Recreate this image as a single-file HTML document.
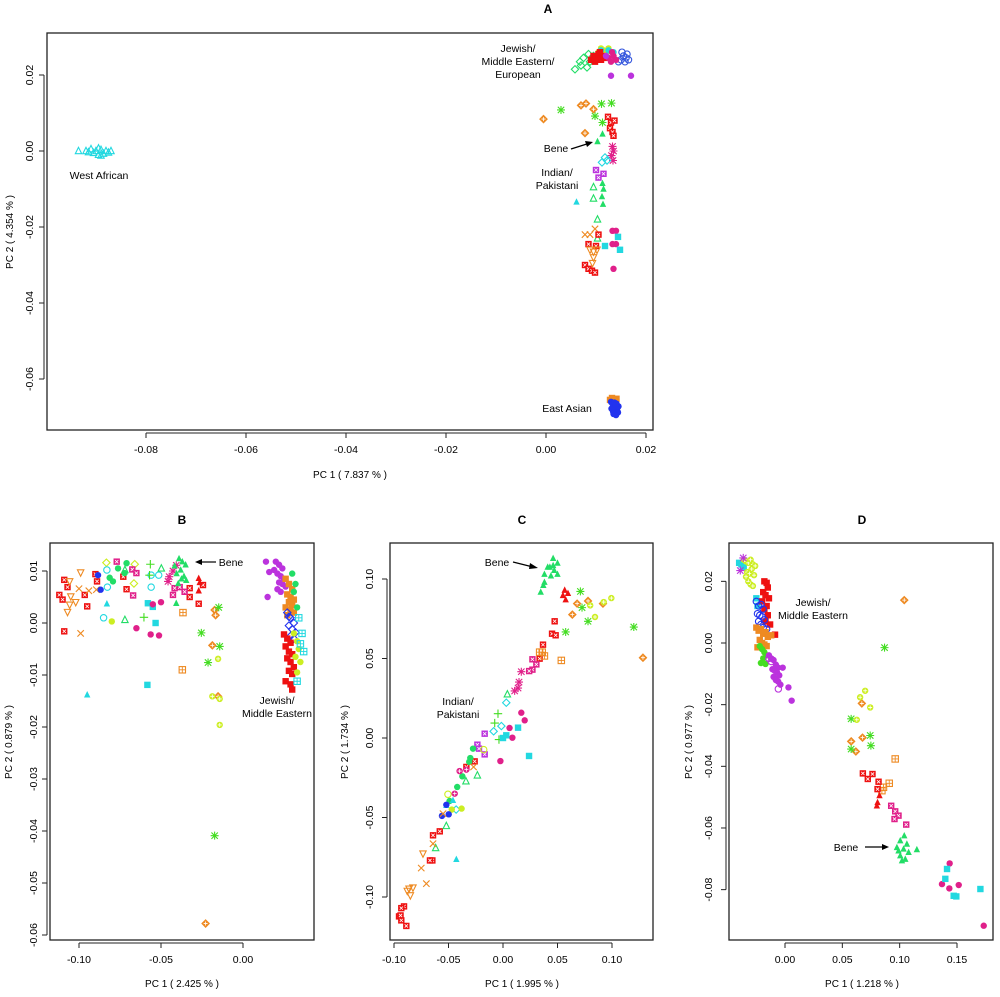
<!DOCTYPE html>
<html><head><meta charset="utf-8">
<style>
html,body{margin:0;padding:0;background:#fff;}
svg{display:block;font-family:"Liberation Sans",Arial,sans-serif;}
</style></head>
<body>
<svg id="fig" width="1000" height="997" viewBox="0 0 1000 997" xmlns="http://www.w3.org/2000/svg">
<rect width="1000" height="997" fill="#fff"/>
<!-- titles / labels -->
<text x="548" y="13" font-size="12" font-weight="bold" text-anchor="middle">A</text>
<text x="182" y="524" font-size="12" font-weight="bold" text-anchor="middle">B</text>
<text x="522" y="524" font-size="12" font-weight="bold" text-anchor="middle">C</text>
<text x="862" y="524" font-size="12" font-weight="bold" text-anchor="middle">D</text>

<text x="350" y="478" font-size="10" text-anchor="middle">PC 1 ( 7.837 % )</text>
<text transform="translate(13,232) rotate(-90)" font-size="10" text-anchor="middle">PC 2 ( 4.354 % )</text>
<text x="182" y="987" font-size="10" text-anchor="middle">PC 1 ( 2.425 % )</text>
<text transform="translate(12,742) rotate(-90)" font-size="10" text-anchor="middle">PC 2 ( 0.879 % )</text>
<text x="522" y="987" font-size="10" text-anchor="middle">PC 1 ( 1.995 % )</text>
<text transform="translate(348,742) rotate(-90)" font-size="10" text-anchor="middle">PC 2 ( 1.734 % )</text>
<text x="862" y="987" font-size="10" text-anchor="middle">PC 1 ( 1.218 % )</text>
<text transform="translate(692,742) rotate(-90)" font-size="10" text-anchor="middle">PC 2 ( 0.977 % )</text>

<g font-size="10.5" text-anchor="middle">
<text x="518" y="52">Jewish/</text>
<text x="518" y="65">Middle Eastern/</text>
<text x="518" y="78">European</text>
<text x="556" y="152">Bene</text>
<line x1="571" y1="149" x2="590" y2="143" stroke="#000" stroke-width="1.2"/>
<polygon points="593,142 585,141 587,147" fill="#000"/>
<text x="557" y="176">Indian/</text>
<text x="557" y="189">Pakistani</text>
<text x="567" y="412">East Asian</text>
<text x="99" y="179">West African</text>

<text x="231" y="566">Bene</text>
<line x1="216" y1="562" x2="200" y2="562" stroke="#000" stroke-width="1.2"/>
<polygon points="195,562 202,559 202,565" fill="#000"/>
<text x="277" y="704">Jewish/</text>
<text x="277" y="717">Middle Eastern</text>

<text x="497" y="566">Bene</text>
<line x1="513" y1="562" x2="533" y2="567" stroke="#000" stroke-width="1.2"/>
<polygon points="538,568 530,563 529,569" fill="#000"/>
<text x="458" y="705">Indian/</text>
<text x="458" y="718">Pakistani</text>

<text x="813" y="606">Jewish/</text>
<text x="813" y="619">Middle Eastern</text>
<text x="846" y="851">Bene</text>
<line x1="865" y1="847" x2="883" y2="847" stroke="#000" stroke-width="1.2"/>
<polygon points="889,847 882,844 882,850" fill="#000"/>
</g>
</svg>
<script>
// ===== Panel A data =====
const aTicksX = [-0.08,-0.06,-0.04,-0.02,0.00,0.02];
const aTickLabelsX = ["-0.08","-0.06","-0.04","-0.02","0.00","0.02"];
const aTicksY = [0.02,0.00,-0.02,-0.04,-0.06];
const aTickLabelsY = ["0.02","0.00","-0.02","-0.04","-0.06"];
const aWestX = [-0.0935,-0.092,-0.091,-0.0905,-0.090,-0.0895,-0.089,-0.0885,-0.088,-0.0875,-0.087,-0.0915,-0.0895,-0.089];
const aWestY = [0.0,0.0,0.0005,-0.0005,0.0,-0.001,0.0003,-0.0007,0.0,-0.0004,0.0,-0.0003,0.0007,-0.0012];
const aJGreenX = [0.0058,0.0068,0.0075,0.0082,0.0088,0.0095,0.007,0.0085];
const aJGreenY = [0.0215,0.0235,0.0245,0.022,0.0235,0.025,0.0225,0.0255];
const aJRedX = [0.009,0.0095,0.010,0.0105,0.011,0.0115,0.012,0.0098,0.0108];
const aJRedY = [0.024,0.025,0.0245,0.0255,0.024,0.025,0.0245,0.0235,0.026];
const aJYellowX = [0.0105,0.011,0.0115,0.012,0.0125];
const aJYellowY = [0.026,0.027,0.0265,0.0255,0.027];
const aJBlueX = [0.0145,0.015,0.0155,0.016,0.0165,0.0152,0.0158,0.0162];
const aJBlueY = [0.0235,0.024,0.025,0.0245,0.024,0.026,0.0235,0.0255];
const aJMagX = [0.0125,0.013,0.0135,0.014,0.0132];
const aJMagY = [0.0245,0.0235,0.025,0.024,0.026];
const aJPurX = [0.013,0.017,0.012];
const aJPurY = [0.0198,0.0198,0.025];
const aJCyanX = [0.011,0.0125,0.0135];
const aJCyanY = [0.0265,0.0265,0.026];
const aIAstX = [0.003,0.0111,0.0131,0.0098,0.0113];
const aIAstY = [0.0108,0.0124,0.0126,0.0092,0.0075];
const aIOrangeX = [-0.0005,0.007,0.008,0.0095,0.0078];
const aIOrangeY = [0.0084,0.012,0.0125,0.011,0.0047];
const aIRedX = [0.0124,0.013,0.0137,0.0128,0.0133,0.0135];
const aIRedY = [0.009,0.0075,0.008,0.006,0.005,0.004];
const aIGreenTriX = [0.0103,0.0113,0.0113,0.0115,0.0112,0.0114];
const aIGreenTriY = [0.0025,0.0045,-0.0085,-0.010,-0.012,-0.014];
const aIMagAstX = [0.0133,0.0135,0.0131,0.0134];
const aIMagAstY = [0.0012,0.0,-0.0012,-0.0025];
const aICyanX = [0.0118,0.0112,0.0122];
const aICyanY = [-0.0017,-0.003,-0.0025];
const aIPurX = [0.010,0.0115,0.0105];
const aIPurY = [-0.005,-0.006,-0.007];
const aIOpenTriX = [0.0095,0.0095,0.0103,0.0103];
const aIOpenTriY = [-0.0095,-0.0125,-0.018,-0.023];
const aICyanTriX = [0.0061];
const aICyanTriY = [-0.0134];
const aIXX = [0.0098,0.0078,0.0088];
const aIXY = [-0.0205,-0.022,-0.022];
const aIBoxXX = [0.0105,0.0085,0.0100,0.0078,0.0085,0.0092,0.0098];
const aIBoxXY = [-0.022,-0.0245,-0.025,-0.030,-0.031,-0.0315,-0.032];
const aIMagX = [0.0133,0.014,0.0133,0.014,0.0135];
const aIMagY = [-0.021,-0.021,-0.0245,-0.0245,-0.031];
const aICyanSqX = [0.0144,0.0148,0.0118];
const aICyanSqY = [-0.0226,-0.026,-0.025];
const aIDownX = [0.0088,0.0095,0.0102,0.0095,0.0093];
const aIDownY = [-0.026,-0.0265,-0.026,-0.028,-0.0295];
const aEastBlueX = [0.0130,0.0133,0.0136,0.0139,0.0142,0.0145,0.0134,0.0138,0.0141,0.0131,0.0144,0.0137,0.0140,0.0135,0.0139];
const aEastBlueY = [-0.066,-0.0665,-0.067,-0.0675,-0.068,-0.0672,-0.0685,-0.069,-0.0665,-0.0678,-0.0688,-0.0662,-0.0695,-0.0692,-0.0668];
const aEastOrX = [0.0128,0.0132,0.0136,0.0141];
const aEastOrY = [-0.0655,-0.065,-0.066,-0.0652];

// ===== Panel B data =====
const bTicksX = [-0.10,-0.05,0.00];
const bTickLabelsX = ["-0.10","-0.05","0.00"];
const bTicksY = [0.01,0.00,-0.01,-0.02,-0.03,-0.04,-0.05,-0.06];
const bTickLabelsY = ["0.01","0.00","-0.01","-0.02","-0.03","-0.04","-0.05","-0.06"];
const bPurX = [0.014,0.016,0.020,0.022,0.024,0.021,0.023,0.025,0.019,0.022,0.024,0.026,0.021,0.023,0.015];
const bPurY = [0.0118,0.0098,0.0118,0.0112,0.0105,0.0095,0.009,0.0085,0.0102,0.0078,0.0075,0.007,0.0065,0.006,0.005];
const bOrSqX = [0.026,0.028,0.030,0.027,0.029,0.031,0.028,0.030,0.026,0.029,0.031,0.027];
const bOrSqY = [0.0085,0.0075,0.0065,0.0055,0.005,0.0045,0.004,0.0035,0.003,0.0025,0.002,0.0015];
const bBlueX = [0.027,0.029,0.031,0.028,0.030,0.032,0.029,0.031,0.028];
const bBlueY = [0.002,0.001,0.0,-0.0005,-0.0012,-0.0018,-0.0025,-0.003,0.0012];
const bRedSqX = [0.025,0.027,0.029,0.026,0.028,0.030,0.027,0.029,0.031,0.028,0.030,0.026,0.029,0.030];
const bRedSqY = [-0.0022,-0.003,-0.0038,-0.0045,-0.0055,-0.006,-0.0068,-0.0075,-0.0085,-0.0092,-0.0098,-0.0112,-0.0118,-0.0128];
const bYelX = [0.031,0.033,0.034,0.032,0.035,0.033];
const bYelY = [-0.002,-0.0035,-0.005,-0.0065,-0.0075,-0.0095];
const bCyanBpX = [0.034,0.036,0.035,0.037,0.033];
const bCyanBpY = [0.001,-0.002,-0.004,-0.0055,-0.0112];
const bGreenRX = [0.030,0.032,0.031,0.033];
const bGreenRY = [0.0095,0.0075,0.006,0.003];
const bRedBxX = [-0.109,-0.107,-0.112,-0.110,-0.0965,-0.095,-0.090,-0.089,-0.071,-0.073,-0.109,-0.0325,-0.0325,-0.027,-0.0244];
const bRedBxY = [0.0083,0.0069,0.0054,0.0045,0.0054,0.0032,0.0094,0.008,0.0065,0.0089,-0.0016,0.0067,0.005,0.0037,0.0073];
const bDownX = [-0.099,-0.1057,-0.105,-0.1057,-0.107,-0.102];
const bDownY = [0.0097,0.008,0.0051,0.0035,0.0021,0.004];
const bXX = [-0.100,-0.094,-0.0894,-0.099];
const bXY = [0.0066,0.0062,0.0064,-0.002];
const bDiaX = [-0.0833,-0.066,-0.0665];
const bDiaY = [0.0116,0.0113,0.0076];
const bMagBxX = [-0.077,-0.0675,-0.065,-0.067,-0.0427,-0.0417,-0.0386,-0.0356];
const bMagBxY = [0.0118,0.0103,0.0096,0.0053,0.0054,0.0067,0.0069,0.006];
const bGreenCX = [-0.0813,-0.0762,-0.071,-0.0793,-0.0722];
const bGreenCY = [0.0087,0.0105,0.0115,0.008,0.0096];
const bCyanOcX = [-0.083,-0.0827,-0.085,-0.056,-0.0514,-0.056];
const bCyanOcY = [0.0102,0.0069,0.001,0.0092,0.0092,0.0069];
const bCyanSqX = [-0.058,-0.055,-0.0533,-0.0583];
const bCyanSqY = [0.0038,0.0031,0.0,-0.0119];
const bCyanTriX = [-0.083,-0.095];
const bCyanTriY = [0.0037,-0.0138];
const bPlusX = [-0.0565,-0.057,-0.0604];
const bPlusY = [0.0113,0.0092,0.0011];
const bOpenTriX = [-0.0498,-0.072,-0.072];
const bOpenTriY = [0.0105,0.0006,0.0102];
const bYelCX = [-0.080];
const bYelCY = [0.0003];
const bMagCX = [-0.065,-0.0563,-0.0512,-0.055,-0.050];
const bMagCY = [-0.001,-0.0022,-0.0024,0.0036,0.004];
const bMagAstX = [-0.045,-0.0427,-0.0407,-0.0457];
const bMagAstY = [0.0089,0.010,0.0111,0.008];
const bBeneX = [-0.0417,-0.039,-0.037,-0.035,-0.0405,-0.038,-0.036,-0.0346,-0.0395,-0.0375,-0.0407];
const bBeneY = [0.011,0.0124,0.0118,0.0112,0.0095,0.0102,0.009,0.0082,0.0076,0.0085,0.0038];
const bRedTriX = [-0.027,-0.027,-0.0264];
const bRedTriY = [0.0086,0.0062,0.0078];
const bOrBpX = [-0.0366,-0.037];
const bOrBpY = [0.002,-0.009];
const bOrDpX = [-0.0173,-0.0167,-0.0187,-0.0152,-0.0228];
const bOrDpY = [0.0025,0.0015,-0.0043,-0.0141,-0.0578];
const bAstX = [-0.0148,-0.0254,-0.0142,-0.0213,-0.0173];
const bAstY = [0.003,-0.0019,-0.0045,-0.0076,-0.0409];
const bYelCpX = [-0.0152,-0.0187,-0.0142,-0.0142];
const bYelCpY = [-0.0069,-0.0141,-0.0146,-0.0196];
const bBlueDX = [-0.0868,-0.0884];
const bBlueDY = [0.0064,0.0092];

// ===== Panel C data =====
const cTicksX = [-0.10,-0.05,0.00,0.05,0.10];
const cTickLabelsX = ["-0.10","-0.05","0.00","0.05","0.10"];
const cTicksY = [0.10,0.05,0.00,-0.05,-0.10];
const cTickLabelsY = ["0.10","0.05","0.00","-0.05","-0.10"];
const cBeneX = [0.046,0.050,0.041,0.047,0.038,0.044,0.050,0.038,0.037,0.0346,0.043,0.046];
const cBeneY = [0.113,0.110,0.1075,0.1055,0.103,0.102,0.103,0.098,0.096,0.0918,0.1075,0.1085];
const cRedTriX = [0.0566,0.0596,0.055,0.0575];
const cRedTriY = [0.093,0.091,0.0897,0.087];
const cAstX = [0.071,0.0725,0.078,0.0575,0.12];
const cAstY = [0.0922,0.082,0.0734,0.0667,0.0698];
const cOrDpX = [0.068,0.078,0.0636,0.0917,0.1284];
const cOrDpY = [0.0845,0.0862,0.0776,0.0845,0.0505];
const cYelCX = [0.080,0.0844,0.0924,0.0994];
const cYelCY = [0.0834,0.0761,0.0855,0.088];
const cRedBxX = [0.0474,0.045,0.0483,0.0367,0.0336,-0.026,-0.0336,-0.0642,-0.058,-0.0648,-0.067,-0.0908,-0.0933,-0.0954,-0.0933,-0.0887,-0.094];
const cRedBxY = [0.0734,0.0656,0.0646,0.0587,0.0499,-0.0147,-0.0182,-0.0612,-0.0587,-0.077,-0.077,-0.1059,-0.107,-0.1122,-0.1147,-0.1182,-0.1116];
const cOrBpX = [0.0336,0.038,0.0535,0.036];
const cOrBpY = [0.054,0.0516,0.0488,0.054];
const cMagBxX = [0.027,0.0306,0.027,0.024];
const cMagBxY = [0.0495,0.0463,0.043,0.0421];
const cMagAstX = [0.0168,0.0147,0.0138,0.0107];
const cMagAstY = [0.0417,0.0352,0.0314,0.0296];
const cOpenTriX = [0.004,-0.0235,-0.034,-0.052,-0.0618];
const cOpenTriY = [0.0275,-0.0235,-0.0272,-0.0553,-0.0692];
const cCyanDX = [0.003,-0.0015,-0.0086,-0.043];
const cCyanDY = [0.0222,0.0075,0.0042,-0.045];
const cPlusX = [-0.0046,-0.0076,-0.0037];
const cPlusY = [0.0153,0.0094,-0.001];
const cMagCX = [0.0168,0.0199,0.006,0.0086,-0.0024];
const cMagCY = [0.0159,0.0111,0.0063,0.0002,-0.0145];
const cCyanSqX = [0.0138,0.003,0.0,0.0239];
const cCyanSqY = [0.0065,0.0017,0.0,-0.0113];
const cPurBxX = [-0.0168,-0.0235,-0.022,-0.0168];
const cPurBxY = [0.0027,-0.0042,-0.0067,-0.0103];
const cYelOcX = [-0.0177,-0.0505];
const cYelOcY = [-0.0073,-0.0354];
const cGreenCX = [-0.0275,-0.030,-0.0373,-0.042,-0.049,-0.031];
const cGreenCY = [-0.0067,-0.0126,-0.0241,-0.0308,-0.0396,-0.015];
const cMagCpX = [-0.0398,-0.0443,-0.0336];
const cMagCpY = [-0.0208,-0.035,-0.0199];
const cCyanTriX = [-0.0459,-0.052,-0.0428];
const cCyanTriY = [-0.0392,-0.0423,-0.0763];
const cYelFcX = [-0.038,-0.047];
const cYelFcY = [-0.0444,-0.045];
const cBlueX = [-0.056,-0.0498,-0.052];
const cBlueY = [-0.049,-0.048,-0.042];
const cXX = [-0.027,-0.0642,-0.075,-0.0703,-0.055];
const cXY = [-0.0182,-0.0665,-0.0818,-0.0916,-0.0476];
const cDownX = [-0.0734,-0.0862,-0.0826,-0.085,-0.0878];
const cDownY = [-0.0727,-0.0948,-0.0941,-0.099,-0.0962];

// ===== Panel D data =====
const dTicksX = [0.00,0.05,0.10,0.15];
const dTickLabelsX = ["0.00","0.05","0.10","0.15"];
const dTicksY = [0.02,0.00,-0.02,-0.04,-0.06,-0.08];
const dTickLabelsY = ["0.02","0.00","-0.02","-0.04","-0.06","-0.08"];
const dCyanX = [-0.040,-0.038,-0.036,-0.025,-0.024];
const dCyanY = [0.026,0.0255,0.0245,0.0145,0.012];
const dYelX = [-0.036,-0.034,-0.032,-0.030,-0.028,-0.026,-0.033,-0.031,-0.029,-0.027,-0.032,-0.030,-0.028,-0.034];
const dYelY = [0.027,0.0265,0.026,0.027,0.0255,0.025,0.023,0.0225,0.024,0.022,0.020,0.019,0.0185,0.0215];
const dMagAstX = [-0.0364,-0.039];
const dMagAstY = [0.0276,0.0235];
const dRedX = [-0.018,-0.016,-0.015,-0.019,-0.017,-0.014,-0.020,-0.016,-0.018,-0.015,-0.017,-0.013,-0.0087];
const dRedY = [0.020,0.0195,0.018,0.0165,0.0155,0.0145,0.0135,0.012,0.011,0.009,0.007,0.006,0.0027];
const dBlueX = [-0.025,-0.023,-0.021,-0.019,-0.024,-0.022,-0.020,-0.018,-0.023,-0.021,-0.019,-0.016];
const dBlueY = [0.0135,0.012,0.0125,0.011,0.0095,0.009,0.0085,0.0075,0.007,0.006,0.005,0.0045];
const dOrX = [-0.025,-0.023,-0.021,-0.019,-0.017,-0.015,-0.022,-0.020,-0.018,-0.016,-0.012,-0.024];
const dOrY = [0.005,0.004,0.0045,0.003,0.0035,0.002,0.001,0.0,-0.0005,-0.001,0.0025,-0.0014];
const dGreenX = [-0.022,-0.020,-0.018,-0.016,-0.019,-0.021,-0.017];
const dGreenY = [-0.001,-0.002,-0.003,-0.004,-0.005,-0.0065,-0.0068];
const dPurX = [-0.014,-0.012,-0.010,-0.008,-0.006,-0.011,-0.009,-0.007,-0.005,-0.010,-0.008,-0.006,-0.004,-0.002,0.003,0.0058];
const dPurY = [-0.004,-0.005,-0.0055,-0.007,-0.008,-0.0085,-0.009,-0.0095,-0.0105,-0.011,-0.012,-0.0125,-0.0135,-0.008,-0.0144,-0.0187];
const dPurOcX = [-0.014,-0.012,-0.0058];
const dPurOcY = [-0.005,-0.006,-0.0149];
const dOrDpX = [0.104,0.067,0.0577,0.0676,0.0618];
const dOrDpY = [0.0139,-0.0196,-0.0319,-0.0307,-0.0352];
const dAstX = [0.0868,0.0577,0.0743,0.0749,0.0577];
const dAstY = [-0.0015,-0.0246,-0.030,-0.0333,-0.0344];
const dYelCX = [0.0699,0.0655,0.0743,0.0626];
const dYelCY = [-0.0155,-0.0176,-0.0209,-0.0249];
const dOrBpX = [0.0961,0.0909,0.0859,0.0845];
const dOrBpY = [-0.0376,-0.0455,-0.0468,-0.0479];
const dRedBxX = [0.0679,0.0722,0.0763,0.0816,0.0807];
const dRedBxY = [-0.0423,-0.0441,-0.0425,-0.045,-0.0474];
const dRedTriX = [0.0824,0.0807,0.0801];
const dRedTriY = [-0.0495,-0.0517,-0.0528];
const dMagBxX = [0.0926,0.0961,0.099,0.0955,0.1057];
const dMagBxY = [-0.0528,-0.0546,-0.056,-0.0571,-0.0589];
const dBeneX = [0.104,0.1005,0.1063,0.0976,0.1034,0.1078,0.1005,0.1049,0.102,0.115,0.099];
const dBeneY = [-0.0625,-0.0641,-0.0652,-0.0663,-0.0668,-0.0679,-0.069,-0.0701,-0.0706,-0.067,-0.0674];
const dMagCX = [0.1436,0.1369,0.1433,0.1515,0.1733];
const dMagCY = [-0.0715,-0.0782,-0.0796,-0.0785,-0.0917];
const dCyanSqX = [0.1413,0.1398,0.1471,0.1494,0.1704];
const dCyanSqY = [-0.0733,-0.0765,-0.082,-0.0822,-0.0798];

// ===== colors =====
const RED="#ee1111", ORANGE="#ee8a22", LGREEN="#44dd22", GREEN="#22dd66", CYAN="#22d8e0",
      MAG="#e0208a", PUR="#bb33dd", BLUE="#2233ee", YEL="#ccee22", DBLUE="#3355dd";

const NS = "http://www.w3.org/2000/svg";
const svg = document.getElementById("fig");
function el(tag, attrs, parent){
  const e = document.createElementNS(NS, tag);
  for (const k in attrs) e.setAttribute(k, attrs[k]);
  (parent||svg).appendChild(e);
  return e;
}
function marker(g, shape, c, x, y){
  const r = 3.2;
  const s = {stroke:c, "stroke-width":1.1, fill:"none"};
  let m;
  switch(shape){
    case "fc": m = el("circle",{cx:x,cy:y,r:r,fill:c},g); break;
    case "oc": m = el("circle",Object.assign({cx:x,cy:y,r:r},s),g); break;
    case "fs": m = el("rect",{x:x-r,y:y-r,width:2*r,height:2*r,fill:c},g); break;
    case "ft": m = el("polygon",{points:`${x},${y-r-0.5} ${x-r},${y+r-0.5} ${x+r},${y+r-0.5}`,fill:c},g); break;
    case "ot": m = el("polygon",Object.assign({points:`${x},${y-r-0.5} ${x-r},${y+r-0.5} ${x+r},${y+r-0.5}`},s),g); break;
    case "dt": m = el("polygon",Object.assign({points:`${x},${y+r+0.5} ${x-r},${y-r+0.5} ${x+r},${y-r+0.5}`},s),g); break;
    case "od": m = el("polygon",Object.assign({points:`${x},${y-r-0.5} ${x+r+0.5},${y} ${x},${y+r+0.5} ${x-r-0.5},${y}`},s),g); break;
    case "x": m = el("path",Object.assign({d:`M${x-r},${y-r}L${x+r},${y+r}M${x-r},${y+r}L${x+r},${y-r}`},s),g); break;
    case "plus": m = el("path",Object.assign({d:`M${x-r-1},${y}L${x+r+1},${y}M${x},${y-r-1}L${x},${y+r+1}`},s),g); break;
    case "ast": m = el("path",Object.assign({d:`M${x-r},${y-r}L${x+r},${y+r}M${x-r},${y+r}L${x+r},${y-r}M${x-r-0.8},${y}L${x+r+0.8},${y}M${x},${y-r-0.8}L${x},${y+r+0.8}`},s),g); break;
    case "bx": m = el("g",{},g);
      el("rect",{x:x-r,y:y-r,width:2*r,height:2*r,fill:c},m);
      el("path",{d:`M${x-1.6},${y-1.6}L${x+1.6},${y+1.6}M${x-1.6},${y+1.6}L${x+1.6},${y-1.6}`,stroke:"#fff","stroke-width":0.8},m); break;
    case "bp": m = el("g",{},g);
      el("rect",{x:x-r,y:y-r,width:2*r,height:2*r,fill:"none",stroke:c,"stroke-width":1.1},m);
      el("path",{d:`M${x-r},${y}L${x+r},${y}M${x},${y-r}L${x},${y+r}`,stroke:c,"stroke-width":0.9},m); break;
    case "dp": m = el("g",{},g);
      el("polygon",{points:`${x},${y-r-0.5} ${x+r+0.5},${y} ${x},${y+r+0.5} ${x-r-0.5},${y}`,fill:c,stroke:c,"stroke-width":1},m);
      el("path",{d:`M${x-2},${y}L${x+2},${y}M${x},${y-2}L${x},${y+2}`,stroke:"#fff","stroke-width":0.8},m); break;
    case "cp": m = el("g",{},g);
      el("circle",{cx:x,cy:y,r:r,fill:c},m);
      el("path",{d:`M${x-2},${y}L${x+2},${y}M${x},${y-2}L${x},${y+2}`,stroke:"#fff","stroke-width":0.8},m); break;
  }
  
  
  return m;
}
function panel(key, box, sx, sy, ticksX, labsX, ticksY, labsY, ylabX, series){
  const g = el("g",{});
  
  
  const frame = el("rect",{x:box[0],y:box[1],width:box[2]-box[0],height:box[3]-box[1],fill:"none",stroke:"#222","stroke-width":1.3},g);
  
  
  const xa = el("g",{},g);
  
  
  const ax = box[3]+3;
  el("line",{x1:sx(ticksX[0]),x2:sx(ticksX[ticksX.length-1]),y1:ax,y2:ax,stroke:"#222","stroke-width":1},xa);
  ticksX.forEach((t,i)=>{
    el("line",{x1:sx(t),x2:sx(t),y1:ax,y2:ax+5,stroke:"#222","stroke-width":1},xa);
    const tx = el("text",{x:sx(t),y:ax+20,"font-size":10.5,"text-anchor":"middle"},xa);
    tx.textContent = labsX[i];
    
    
  });
  const ya = el("g",{},g);
  
  
  const ay = box[0]-3;
  el("line",{x1:ay,x2:ay,y1:sy(ticksY[0]),y2:sy(ticksY[ticksY.length-1]),stroke:"#222","stroke-width":1},ya);
  ticksY.forEach((t,i)=>{
    el("line",{x1:ay,x2:ay-5,y1:sy(t),y2:sy(t),stroke:"#222","stroke-width":1},ya);
    const tx = el("text",{transform:`translate(${ylabX},${sy(t)}) rotate(-90)`,"font-size":10.5,"text-anchor":"middle"},ya);
    tx.textContent = labsY[i];
    
    
  });
  series.forEach(s=>{
    const sg = el("g",{},g);
    
    
    const xs = s[3], ys = s[4];
    xs.forEach((v,i)=>marker(sg, s[1], s[2], sx(v), sy(ys[i])));
  });
}

const aX = v => 546 + v*5000, aY = v => 151 - v*3800;
const bX = v => 243 + v*1640, bY = v => 623 - v*5200;
const cX = v => 503 + v*1090, cY = v => 738 - v*1590;
const dX = v => 785 + v*1146.7, dY = v => 643 - v*3083;

panel("a",[47,33,653,430],aX,aY,aTicksX,aTickLabelsX,aTicksY,aTickLabelsY,33,[
 ["west-african","ot",CYAN,aWestX,aWestY],
 ["j-green","od",GREEN,aJGreenX,aJGreenY],
 ["j-yellow","fc",YEL,aJYellowX,aJYellowY],
 ["j-cyan","fc",CYAN,aJCyanX,aJCyanY],
 ["j-red","fs",RED,aJRedX,aJRedY],
 ["j-blue","oc",DBLUE,aJBlueX,aJBlueY],
 ["j-magenta","fc",MAG,aJMagX,aJMagY],
 ["j-purple","fc",PUR,aJPurX,aJPurY],
 ["i-ast","ast",LGREEN,aIAstX,aIAstY],
 ["i-orange","dp",ORANGE,aIOrangeX,aIOrangeY],
 ["i-red","bx",RED,aIRedX,aIRedY],
 ["i-green-tri","ft",GREEN,aIGreenTriX,aIGreenTriY],
 ["i-mag-ast","ast",MAG,aIMagAstX,aIMagAstY],
 ["i-cyan","od",CYAN,aICyanX,aICyanY],
 ["i-purple","bx",PUR,aIPurX,aIPurY],
 ["i-open-tri","ot",GREEN,aIOpenTriX,aIOpenTriY],
 ["i-cyan-tri","ft",CYAN,aICyanTriX,aICyanTriY],
 ["i-x","x",ORANGE,aIXX,aIXY],
 ["i-boxx","bx",RED,aIBoxXX,aIBoxXY],
 ["i-magenta","fc",MAG,aIMagX,aIMagY],
 ["i-cyan-sq","fs",CYAN,aICyanSqX,aICyanSqY],
 ["i-down","dt",ORANGE,aIDownX,aIDownY],
 ["east-orange","fs",ORANGE,aEastOrX,aEastOrY],
 ["east-blue","fc",BLUE,aEastBlueX,aEastBlueY]
]);
panel("b",[50,543,314,940],bX,bY,bTicksX,bTickLabelsX,bTicksY,bTickLabelsY,37,[
 ["purple","fc",PUR,bPurX,bPurY],
 ["orange","fs",ORANGE,bOrSqX,bOrSqY],
 ["green-r","fc",GREEN,bGreenRX,bGreenRY],
 ["blue","od",BLUE,bBlueX,bBlueY],
 ["red","fs",RED,bRedSqX,bRedSqY],
 ["yellow","fc",YEL,bYelX,bYelY],
 ["cyan","bp",CYAN,bCyanBpX,bCyanBpY],
 ["red-bx","bx",RED,bRedBxX,bRedBxY],
 ["down","dt",ORANGE,bDownX,bDownY],
 ["x","x",ORANGE,bXX,bXY],
 ["diamond","od",YEL,bDiaX,bDiaY],
 ["mag-bx","bx",MAG,bMagBxX,bMagBxY],
 ["green-c","fc",GREEN,bGreenCX,bGreenCY],
 ["cyan-oc","oc",CYAN,bCyanOcX,bCyanOcY],
 ["cyan-sq","fs",CYAN,bCyanSqX,bCyanSqY],
 ["cyan-tri","ft",CYAN,bCyanTriX,bCyanTriY],
 ["plus","plus",LGREEN,bPlusX,bPlusY],
 ["open-tri","ot",GREEN,bOpenTriX,bOpenTriY],
 ["yellow-c","fc",YEL,bYelCX,bYelCY],
 ["mag-c","fc",MAG,bMagCX,bMagCY],
 ["mag-ast","ast",MAG,bMagAstX,bMagAstY],
 ["bene","ft",GREEN,bBeneX,bBeneY],
 ["red-tri","ft",RED,bRedTriX,bRedTriY],
 ["or-bp","bp",ORANGE,bOrBpX,bOrBpY],
 ["or-dp","dp",ORANGE,bOrDpX,bOrDpY],
 ["ast","ast",LGREEN,bAstX,bAstY],
 ["yel-cp","cp",YEL,bYelCpX,bYelCpY],
 ["blue-d","fc",BLUE,bBlueDX,bBlueDY]
]);
panel("c",[390,543,653,940],cX,cY,cTicksX,cTickLabelsX,cTicksY,cTickLabelsY,373,[
 ["bene","ft",GREEN,cBeneX,cBeneY],
 ["red-tri","ft",RED,cRedTriX,cRedTriY],
 ["ast","ast",LGREEN,cAstX,cAstY],
 ["or-dp","dp",ORANGE,cOrDpX,cOrDpY],
 ["yel-c","cp",YEL,cYelCX,cYelCY],
 ["red-bx","bx",RED,cRedBxX,cRedBxY],
 ["or-bp","bp",ORANGE,cOrBpX,cOrBpY],
 ["mag-bx","bx",MAG,cMagBxX,cMagBxY],
 ["mag-ast","ast",MAG,cMagAstX,cMagAstY],
 ["open-tri","ot",GREEN,cOpenTriX,cOpenTriY],
 ["cyan-d","od",CYAN,cCyanDX,cCyanDY],
 ["plus","plus",LGREEN,cPlusX,cPlusY],
 ["mag-c","fc",MAG,cMagCX,cMagCY],
 ["cyan-sq","fs",CYAN,cCyanSqX,cCyanSqY],
 ["pur-bx","bx",PUR,cPurBxX,cPurBxY],
 ["yel-oc","oc",YEL,cYelOcX,cYelOcY],
 ["green-c","fc",GREEN,cGreenCX,cGreenCY],
 ["mag-cp","cp",MAG,cMagCpX,cMagCpY],
 ["cyan-tri","ft",CYAN,cCyanTriX,cCyanTriY],
 ["yel-fc","fc",YEL,cYelFcX,cYelFcY],
 ["blue","fc",BLUE,cBlueX,cBlueY],
 ["x","x",ORANGE,cXX,cXY],
 ["down","dt",ORANGE,cDownX,cDownY]
]);
panel("d",[729,543,993,940],dX,dY,dTicksX,dTickLabelsX,dTicksY,dTickLabelsY,712,[
 ["cyan","fs",CYAN,dCyanX,dCyanY],
 ["yellow","cp",YEL,dYelX,dYelY],
 ["mag-ast","ast",PUR,dMagAstX,dMagAstY],
 ["red","fs",RED,dRedX,dRedY],
 ["blue","oc",BLUE,dBlueX,dBlueY],
 ["orange","fs",ORANGE,dOrX,dOrY],
 ["green","fc",LGREEN,dGreenX,dGreenY],
 ["purple","fc",PUR,dPurX,dPurY],
 ["purple-oc","oc",PUR,dPurOcX,dPurOcY],
 ["or-dp","dp",ORANGE,dOrDpX,dOrDpY],
 ["ast","ast",LGREEN,dAstX,dAstY],
 ["yel-c","cp",YEL,dYelCX,dYelCY],
 ["or-bp","bp",ORANGE,dOrBpX,dOrBpY],
 ["red-bx","bx",RED,dRedBxX,dRedBxY],
 ["red-tri","ft",RED,dRedTriX,dRedTriY],
 ["mag-bx","bx",MAG,dMagBxX,dMagBxY],
 ["bene","ft",GREEN,dBeneX,dBeneY],
 ["mag-c","fc",MAG,dMagCX,dMagCY],
 ["cyan-sq","fs",CYAN,dCyanSqX,dCyanSqY]
]);
</script>
</body></html>
